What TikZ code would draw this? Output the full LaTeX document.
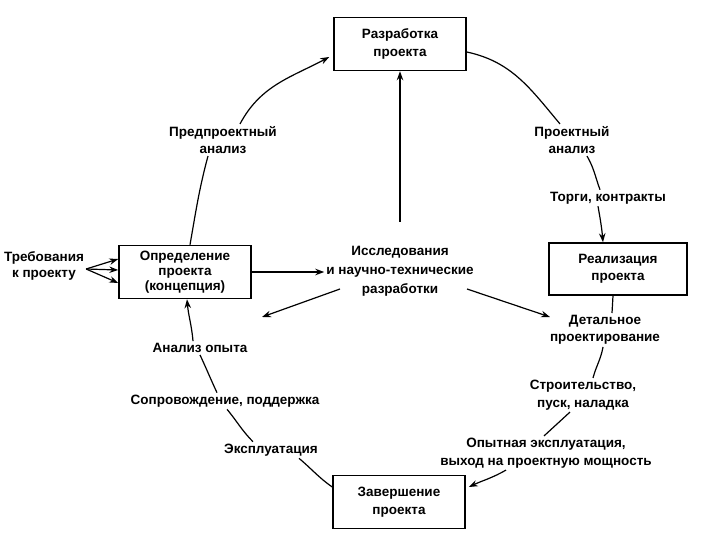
\documentclass[tikz,border=0pt]{standalone}
\usepackage{fontspec}
\setmainfont{Liberation Sans}
\usetikzlibrary{arrows.meta,calc}
\newcommand{\lblfont}{\fontsize{13.5}{17.5}\selectfont\bfseries}
\begin{document}
\begin{tikzpicture}[x=1pt,y=1pt,
  box/.style={draw,line width=1.5pt,minimum width=132pt,minimum height=53pt,align=center,inner sep=2pt,font=\lblfont},
  lbl/.style={align=center,inner sep=2pt,font=\lblfont},
  con/.style={line width=1.2pt},
  arr/.style={line width=1.2pt,-{Stealth[length=9pt,width=6.5pt]}}]
\useasboundingbox (0,0) rectangle (720,-540);
\fill[white] (0,0) rectangle (720,-540);
% boxes
\node[box] (rp) at (400,-44) {Разработка\\проекта};
\node[box,font=\fontsize{13.5}{15}\selectfont\bfseries] (op) at (185,-272) {Определение\\проекта\\(концепция)};
\node[box,minimum width=138pt,minimum height=52pt] (rl) at (618,-269) {Реализация\\проекта};
\node[box] (zv) at (399,-502) {Завершение\\проекта};
% labels
\node[lbl] (pp) at (223,-140) {Предпроектный\\анализ};
\node[lbl] (pa) at (572,-140) {Проектный\\анализ};
\node[lbl] (tk) at (608,-198) {Торги, контракты};
\node[lbl] (dp) at (605,-330) {Детальное\\проектирование};
\node[lbl] (sp) at (583,-395) {Строительство,\\пуск, наладка};
\node[lbl] (oe) at (546,-453) {Опытная эксплуатация,\\выход на проектную мощность};
\node[lbl] (ao) at (200,-348) {Анализ опыта};
\node[lbl] (ss) at (225,-401) {Сопровождение, поддержка};
\node[lbl] (ex) at (271,-450) {Эксплуатация};
\node[lbl,font=\fontsize{13.5}{19}\selectfont\bfseries] (isl) at (400,-271) {Исследования\\и научно-технические\\разработки};
\node[lbl,font=\fontsize{13.5}{16}\selectfont\bfseries] (tr) at (44,-266) {Требования\\к проекту};
% free ends
\coordinate (isltop) at (400,-222);
\coordinate (c1) at (340,-289);
\coordinate (c2) at (262,-317);
\coordinate (c3) at (467,-289);
\coordinate (c4) at (550,-317);
% cycle
\draw[con] ([xshift=5]op.north) to[out=80,in=255] ([xshift=-15]pp.south);
\draw[arr] ([xshift=17]pp.north) to[out=62,in=208] ([xshift=-4,yshift=-13]rp.west);
\draw[con] ([yshift=-8]rp.east) to[out=-12,in=130] ([xshift=-12]pa.north);
\draw[con] ([xshift=15]pa.south) to[out=-60,in=110] ([xshift=-8]tk.north);
\draw[arr] ([xshift=-10]tk.south) to[out=-80,in=95] ([xshift=-15]rl.north);
\draw[con] ([xshift=-5]rl.south) -- ([xshift=7]dp.north);
\draw[con] ([xshift=-2]dp.south) to[out=-100,in=75] ([xshift=10]sp.north);
\draw[con] ([xshift=-13]sp.south) -- ([xshift=-2]oe.north);
\draw[arr] ([xshift=-40]oe.south) to[out=-150,in=25] ([xshift=3,yshift=15]zv.east);
\draw[con] ([yshift=15]zv.west) to[out=145,in=-40] ([xshift=28]ex.south);
\draw[con] ([xshift=-18]ex.north) to[out=135,in=-50] ([xshift=2]ss.south);
\draw[con] ([xshift=-8]ss.north) to[out=115,in=-65] (ao.south);
\draw[arr] ([xshift=-7]ao.north) to[out=95,in=-85] ([xshift=2]op.south);
% centre
\draw[arr] (isltop) -- (rp.south);
\draw[arr] (op.east) -- (op.east -| isl.west);
\draw[arr] (c1) -- (c2);
\draw[arr] (c3) -- (c4);
% requirements
\foreach \s in {13,2,-11} \draw[arr] ([yshift=-3]tr.east) -- ([yshift=\s]op.west);
\end{tikzpicture}
\end{document}
